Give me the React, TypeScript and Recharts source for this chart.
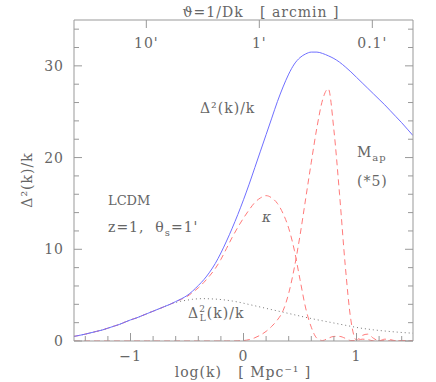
import { LineChart, Line, XAxis, YAxis } from "recharts";

const logK = [
  -1.5, -1.45, -1.4, -1.35, -1.3, -1.25, -1.2, -1.15, -1.1, -1.05, -1.0, -0.95, -0.9, -0.85, -0.8, -0.75,
  -0.7, -0.65, -0.6, -0.55, -0.5, -0.45, -0.4, -0.35, -0.3, -0.25, -0.2, -0.15, -0.1, -0.05, 0, 0.05, 0.1,
  0.15, 0.2, 0.25, 0.3, 0.35, 0.4, 0.45, 0.5, 0.55, 0.6, 0.65, 0.7, 0.75, 0.8, 0.85, 0.9, 0.95, 1.0, 1.05,
  1.1, 1.15, 1.2, 1.25, 1.3, 1.35, 1.4, 1.45, 1.5,
];

// nonlinear Δ²(k)/k
const total = [
  0.5, 0.62, 0.75, 0.9, 1.05, 1.2, 1.4, 1.6, 1.8, 2.05, 2.3, 2.5, 2.75, 3.0, 3.25, 3.5,
  3.75, 4.0, 4.3, 4.6, 4.95, 5.45, 6.05, 6.7, 7.5, 8.45, 9.6, 10.9, 12.3, 13.8, 15.4, 17.1, 18.9,
  20.7, 22.5, 24.3, 26.1, 27.7, 29.1, 30.2, 30.9, 31.3, 31.5, 31.5, 31.35, 31.1, 30.8, 30.4, 29.9, 29.35, 28.75, 28.15,
  27.55, 26.95, 26.35, 25.75, 25.1, 24.45, 23.8, 23.1, 22.4,
];

// kappa filter
const kappa = [
  0.5, 0.62, 0.75, 0.9, 1.05, 1.2, 1.4, 1.6, 1.8, 2.05, 2.3, 2.5, 2.75, 3.0, 3.25, 3.5,
  3.75, 4.0, 4.28, 4.55, 4.85, 5.3, 5.8, 6.4, 7.1, 7.9, 8.9, 10.1, 11.3, 12.4, 13.4, 14.3, 15.1,
  15.6, 15.85, 15.6, 15.0, 13.9, 12.3, 9.9, 6.7, 3.6, 1.5, 0.3, 0.05, 0.3, 0.5, 0.5, 0.3, 0.05, 0.05, 0.2,
  0.15, 0.02, 0.05, 0.08, 0.02, 0.02, 0.04, 0.02, 0.01,
];

// aperture mass (*5)
const mapFilter = [
  0, 0, 0, 0, 0, 0, 0, 0, 0, 0, 0, 0, 0, 0, 0, 0,
  0, 0, 0, 0, 0, 0, 0, 0, 0, 0, 0, 0, 0, 0.02, 0.05, 0.15, 0.35,
  0.65, 1.05, 1.6, 2.3, 3.3, 5.2, 8.0, 11.5, 15.5, 19.5, 23.3, 26.3, 27.5, 23.0, 16.0, 8.3, 2.3, 0.1, 0.6,
  0.75, 0.3, 0.02, 0.2, 0.15, 0.02, 0.06, 0.04, 0,
];

// linear Δ_L²(k)/k
const linear = [
  0.5, 0.62, 0.75, 0.9, 1.05, 1.2, 1.4, 1.6, 1.8, 2.05, 2.3, 2.5, 2.75, 3.0, 3.25, 3.5,
  3.75, 4.0, 4.2, 4.35, 4.45, 4.55, 4.6, 4.62, 4.6, 4.57, 4.52, 4.45, 4.36, 4.25, 4.12, 3.98, 3.84,
  3.7, 3.56, 3.42, 3.28, 3.14, 3.0, 2.86, 2.72, 2.58, 2.45, 2.32, 2.2, 2.08, 1.96, 1.84, 1.72, 1.6, 1.48, 1.38,
  1.3, 1.22, 1.15, 1.09, 1.03, 0.98, 0.93, 0.89, 0.85,
];

const xMajorTicks = [-1, 0, 1];
const xMinorTicks = [-1.4, -1.2, -0.8, -0.6, -0.4, -0.2, 0.2, 0.4, 0.6, 0.8, 1.2, 1.4];
const yMajorTicks = [0, 10, 20, 30];
const yMinorTicks = [2, 4, 6, 8, 12, 14, 16, 18, 22, 24, 26, 28, 32, 34];
const topTickPos = [-0.86, 0.14, 1.14];
const topTickLabels = ["10'", "1'", "0.1'"];

const data = logK.map((k, i) => ({
  k,
  total: total[i],
  kappa: kappa[i],
  map: mapFilter[i],
  linear: linear[i],
}));

const FONT = "'DejaVu Serif', 'Liberation Serif', serif";
const TEXT = "#666";
const FRAME = "#999";

const fmtX = (v: number) => (v < 0 ? `\u2212${Math.abs(v)}` : `${v}`);

const textStyle = { fontFamily: FONT, fill: TEXT, fontSize: 14, letterSpacing: 1 };

function BottomTick({ x, y, payload }: any) {
  const major = xMajorTicks.includes(payload.value);
  return (
    <g>
      <line x1={x} x2={x} y1={y} y2={y - (major ? 8 : 5)} stroke={FRAME} />
      {major && (
        <text x={x} y={y + 20} textAnchor="middle" style={textStyle}>
          {fmtX(payload.value)}
        </text>
      )}
    </g>
  );
}

function TopTick({ x, y, index }: any) {
  return (
    <g>
      <line x1={x} x2={x} y1={y} y2={y + 8} stroke={FRAME} />
      <text x={x} y={y + 28} textAnchor="middle" style={textStyle}>
        {topTickLabels[index] ?? ""}
      </text>
    </g>
  );
}

function LeftTick({ x, y, payload }: any) {
  const major = yMajorTicks.includes(payload.value);
  return (
    <g>
      <line x1={x} x2={x + (major ? 8 : 5)} y1={y} y2={y} stroke={FRAME} />
      {major && (
        <text x={x - 10} y={y + 5} textAnchor="end" style={textStyle}>
          {payload.value}
        </text>
      )}
    </g>
  );
}

function RightTick({ x, y, payload }: any) {
  const major = yMajorTicks.includes(payload.value);
  return <line x1={x} x2={x - (major ? 8 : 5)} y1={y} y2={y} stroke={FRAME} />;
}

export default function App() {
  const yTicks = [...yMajorTicks, ...yMinorTicks].sort((a, b) => a - b);
  const xTicks = [...xMajorTicks, ...xMinorTicks].sort((a, b) => a - b);
  return (
    <div style={{ position: "absolute", left: 0, top: 0, width: 436, height: 382, background: "#fff" }}>
      <LineChart
        width={436}
        height={382}
        data={data}
        margin={{ top: 10, right: 13, bottom: 11, left: 34 }}
      >
        <XAxis
          dataKey="k"
          type="number"
          domain={[-1.5, 1.5]}
          allowDataOverflow
          ticks={xTicks}
          interval={0}
          tickSize={0}
          tickMargin={0}
          tickLine={false}
          height={30}
          stroke={FRAME}
          tick={<BottomTick />}
        />
        <XAxis
          xAxisId="top"
          dataKey="k"
          orientation="top"
          type="number"
          domain={[-1.5, 1.5]}
          allowDataOverflow
          ticks={topTickPos}
          interval={0}
          tickSize={0}
          tickMargin={0}
          tickLine={false}
          height={10}
          stroke={FRAME}
          tick={<TopTick />}
        />
        <YAxis
          type="number"
          domain={[0, 35]}
          allowDataOverflow
          ticks={yTicks}
          interval={0}
          tickSize={0}
          tickMargin={0}
          tickLine={false}
          width={40}
          stroke={FRAME}
          tick={<LeftTick />}
        />
        <YAxis
          yAxisId="right"
          orientation="right"
          type="number"
          domain={[0, 35]}
          allowDataOverflow
          ticks={yTicks}
          interval={0}
          tickSize={0}
          tickMargin={0}
          tickLine={false}
          width={10}
          stroke={FRAME}
          tick={<RightTick />}
        />
        <Line xAxisId="top" dataKey="linear" type="monotone" stroke="#777" strokeWidth={1} strokeDasharray="1 3" dot={false} isAnimationActive={false} />
        <Line dataKey="kappa" type="monotone" stroke="#ff7a7a" strokeWidth={1} strokeDasharray="6 4" dot={false} isAnimationActive={false} />
        <Line yAxisId="right" dataKey="map" type="monotone" stroke="#ff7a7a" strokeWidth={1} strokeDasharray="6 4" dot={false} isAnimationActive={false} />
        <Line dataKey="total" type="monotone" stroke="#6f6fff" strokeWidth={1} dot={false} isAnimationActive={false} />
      </LineChart>
      <svg width={436} height={382} style={{ position: "absolute", left: 0, top: 0, pointerEvents: "none" }}>
        <text x={261} y={17} textAnchor="middle" style={{ ...textStyle, whiteSpace: "pre" }}>
          {"\u03d1=1/Dk   [ arcmin ]"}
        </text>
        <text x={243} y={377} textAnchor="middle" style={{ ...textStyle, whiteSpace: "pre" }}>
          {"log(k)   [ Mpc\u207b\u00b9 ]"}
        </text>
        <text transform="translate(32,180) rotate(-90)" textAnchor="middle" style={textStyle}>
          {"\u0394\u00b2(k)/k"}
        </text>
        <text x={200} y={113} style={textStyle}>{"\u0394\u00b2(k)/k"}</text>
        <text x={108} y={205} style={{ ...textStyle, fontSize: 13, letterSpacing: 0 }}>LCDM</text>
        <text x={108} y={232} style={{ ...textStyle, whiteSpace: "pre" }}>
          {"z=1,  \u03b8"}
          <tspan fontSize={10} dy={4}>s</tspan>
          <tspan dy={-4}>{"=1'"}</tspan>
        </text>
        <text x={262} y={222} style={{ ...textStyle, fontStyle: "italic" }}>{"\u03ba"}</text>
        <text x={357} y={157} style={textStyle}>
          M<tspan fontSize={10} dy={4}>ap</tspan>
        </text>
        <text x={357} y={186} style={textStyle}>(*5)</text>
        <text x={188} y={318} style={textStyle}>
          {"\u0394"}
          <tspan fontSize={9} dy={-6}>2</tspan>
          <tspan fontSize={9} dx={-6} dy={9}>L</tspan>
          <tspan dy={-3}>(k)/k</tspan>
        </text>
      </svg>
    </div>
  );
}
